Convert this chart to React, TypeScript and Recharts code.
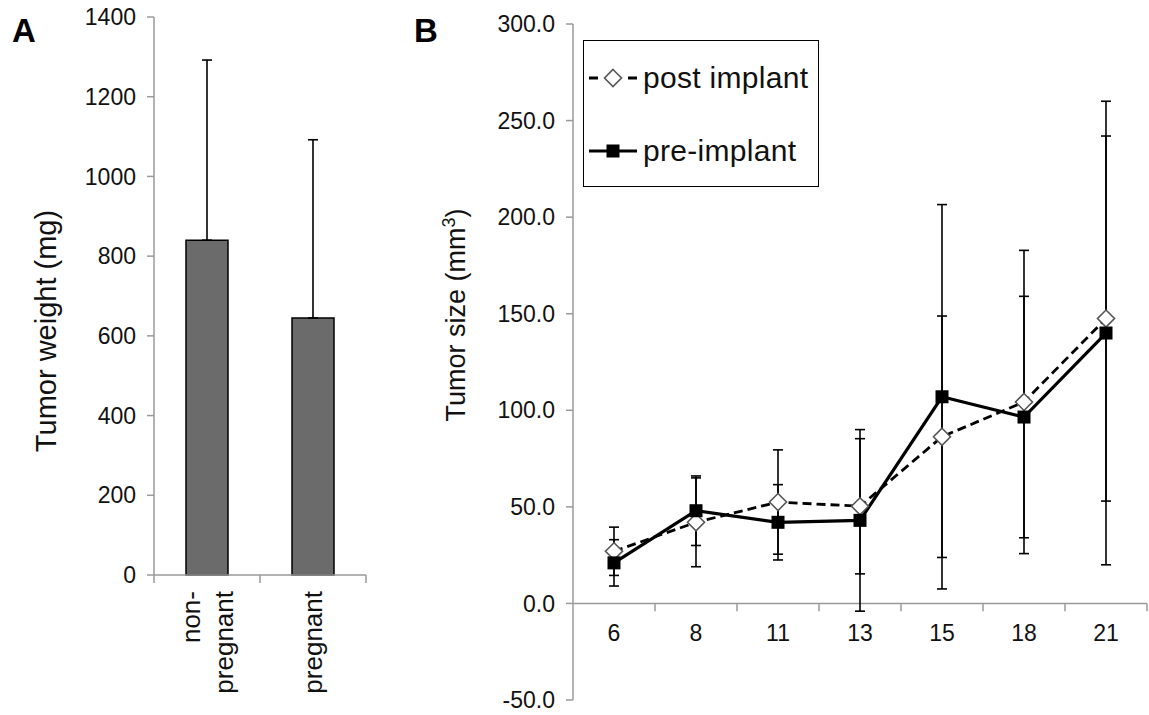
import React from 'react';
import {
    BarChart,
    Bar,
    LineChart,
    Line,
    XAxis,
    YAxis,
    ErrorBar,
    ReferenceLine,
    ReferenceDot,
    Legend,
} from 'recharts';

// ─────────────────────────────────────────────────────────────────────────────
// Data
// ─────────────────────────────────────────────────────────────────────────────

const groups = [['non-', 'pregnant'], ['pregnant']];
const weightMean = [840, 645];
const weightSd = [452, 447];
const weightTicks = [0, 200, 400, 600, 800, 1000, 1200, 1400];

const days = ['6', '8', '11', '13', '15', '18', '21'];
const seriesNames = ['post implant', 'pre-implant'];
const postMean = [27, 42, 52.5, 50.3, 86.3, 104.3, 147.5];
const postErr = [12.5, 23, 27, 35, 62.5, 78.5, 94.5];
const preMean = [21, 48, 42, 43, 107, 96.5, 140];
const preErr = [12, 18, 19.5, 47, 99.5, 62.5, 120];
const sizeTicks = [-50, 0, 50, 100, 150, 200, 250, 300];

const FONT = '"Liberation Sans", Arial, sans-serif';
const AXIS_GREY = '#9a9a9a';

const weightData = groups.map((g, i) => ({
    idx: i,
    lines: g,
    mean: weightMean[i],
    err: [0, weightSd[i]],
}));

const sizeData = days.map((d, i) => ({
    idx: i,
    day: d,
    post: postMean[i],
    postErr: postErr[i],
    pre: preMean[i],
    preErr: preErr[i],
}));

// half-category positions, used for the boundary tick marks
const groupBounds = [-0.5, ...groups.map((_, i) => i + 0.5)];
const dayBounds = days.map((_, i) => i + 0.5);

// ─────────────────────────────────────────────────────────────────────────────
// Panel A pieces
// ─────────────────────────────────────────────────────────────────────────────

const GroupTick = ({ x, y, payload }: { x?: number; y?: number; payload?: { value: number } }) => {
    const v = payload?.value ?? 0;
    if (!Number.isInteger(v)) {
        return <line x1={x} x2={x} y1={y} y2={(y ?? 0) + 8} stroke={AXIS_GREY} strokeWidth={1.5} />;
    }
    const lines = groups[v] ?? [];
    const lh = 33;
    return (
        <g transform={`translate(${x},${(y ?? 0) + 16}) rotate(-90)`}>
            {lines.map((t, i) => (
                <text
                    key={i}
                    x={0}
                    y={(i - (lines.length - 1) / 2) * lh}
                    dy="0.36em"
                    textAnchor="end"
                    fontSize={26}
                    fill="#111"
                    fontFamily={FONT}
                >
                    {t}
                </text>
            ))}
        </g>
    );
};

function WeightPanel() {
    return (
        <BarChart width={400} height={715} data={weightData} margin={{ top: 17, right: 34, bottom: 0, left: 0 }}>
            <XAxis
                dataKey="idx"
                type="number"
                domain={[-0.5, groups.length - 0.5]}
                ticks={[...groupBounds, ...groups.map((_, i) => i)].sort((a, b) => a - b)}
                interval={0}
                allowDecimals
                height={140}
                tickSize={0}
                tickMargin={0}
                tickLine={false}
                axisLine={{ stroke: AXIS_GREY, strokeWidth: 1.5 }}
                tick={<GroupTick />}
            />
            <YAxis
                domain={[0, 1400]}
                ticks={weightTicks}
                interval={0}
                width={154}
                tickSize={7}
                tickMargin={11}
                axisLine={{ stroke: AXIS_GREY, strokeWidth: 1.5 }}
                tickLine={{ stroke: AXIS_GREY, strokeWidth: 1.5 }}
                tick={{ fill: '#111', fontSize: 23, fontFamily: FONT }}
                label={{
                    content: () => (
                        <text
                            transform="translate(46,331) rotate(-90)"
                            textAnchor="middle"
                            dy="0.36em"
                            fontSize={29}
                            fill="#111"
                            fontFamily={FONT}
                        >
                            Tumor weight  (mg)
                        </text>
                    ),
                }}
            />
            <Bar dataKey="mean" fill="#6b6b6b" stroke="#000" strokeWidth={1.5} barSize={42} isAnimationActive={false}>
                <ErrorBar dataKey="err" width={5} stroke="#000" strokeWidth={1.6} direction="y" />
            </Bar>
        </BarChart>
    );
}

// ─────────────────────────────────────────────────────────────────────────────
// Panel B pieces
// ─────────────────────────────────────────────────────────────────────────────

const Diamond = ({ cx, cy }: { cx?: number; cy?: number }) => {
    if (cx == null || cy == null) return null;
    const r = 8.5;
    return (
        <path
            d={`M${cx},${cy - r}L${cx + r},${cy}L${cx},${cy + r}L${cx - r},${cy}Z`}
            fill="#fff"
            stroke="#555"
            strokeWidth={1.6}
        />
    );
};

const Square = ({ cx, cy }: { cx?: number; cy?: number }) => {
    if (cx == null || cy == null) return null;
    const s = 13;
    return <rect x={cx - s / 2} y={cy - s / 2} width={s} height={s} fill="#000" />;
};

const LegendBox = () => (
    <div
        style={{
            width: 236,
            height: 147,
            boxSizing: 'border-box',
            border: '1.5px solid #000',
            background: '#fff',
            fontFamily: FONT,
            fontSize: 30,
            color: '#111',
        }}
    >
        {seriesNames.map((name, i) => (
            <div key={name} style={{ display: 'flex', alignItems: 'center', height: 36, marginTop: i === 0 ? 19 : 37 }}>
                <svg width={56} height={30} style={{ marginLeft: 3 }}>
                    {i === 0 ? (
                        <>
                            <line x1={2} x2={50} y1={15} y2={15} stroke="#000" strokeWidth={3} strokeDasharray="9 30 9" />
                            <Diamond cx={26} cy={15} />
                        </>
                    ) : (
                        <>
                            <line x1={2} x2={50} y1={15} y2={15} stroke="#000" strokeWidth={3.2} />
                            <Square cx={26} cy={15} />
                        </>
                    )}
                </svg>
                <span style={{ marginLeft: 0, letterSpacing: 0.3 }}>{name}</span>
            </div>
        ))}
    </div>
);

function SizePanel() {
    return (
        <LineChart width={719} height={715} data={sizeData} margin={{ top: 24, right: 2, bottom: 15, left: 0 }}>
            <XAxis dataKey="idx" type="number" domain={[-0.5, days.length - 0.5]} hide />
            <YAxis
                domain={[-50, 300]}
                ticks={sizeTicks}
                interval={0}
                width={143}
                tickSize={7}
                tickMargin={11}
                axisLine={{ stroke: AXIS_GREY, strokeWidth: 1.5 }}
                tickLine={{ stroke: AXIS_GREY, strokeWidth: 1.5 }}
                tick={{ fill: '#111', fontSize: 23, fontFamily: FONT }}
                tickFormatter={(v: number) => v.toFixed(1)}
                label={{
                    content: () => (
                        <text
                            transform="translate(25,315) rotate(-90)"
                            textAnchor="middle"
                            dy="0.36em"
                            fontSize={27}
                            fill="#111"
                            fontFamily={FONT}
                        >
                            Tumor size (mm
                            <tspan dy={-10} fontSize={18}>3</tspan>
                            <tspan dy={10}>)</tspan>
                        </text>
                    ),
                }}
            />
            <ReferenceLine y={0} stroke={AXIS_GREY} strokeWidth={1.5} />
            {dayBounds.map((b) => (
                <ReferenceLine
                    key={b}
                    segment={[{ x: b, y: 0 }, { x: b, y: -4 }]}
                    stroke={AXIS_GREY}
                    strokeWidth={1.5}
                />
            ))}
            {sizeData.map((d) => (
                <ReferenceDot
                    key={d.day}
                    x={d.idx}
                    y={0}
                    r={1}
                    fill="none"
                    stroke="none"
                    label={{ value: d.day, position: 'bottom', offset: 20, fontSize: 23, fill: '#111', fontFamily: FONT }}
                />
            ))}
            <Legend
                layout="horizontal"
                verticalAlign="middle"
                align="center"
                wrapperStyle={{ left: 153, top: 40, width: 236, height: 147 }}
                content={() => <LegendBox />}
            />
            <Line
                dataKey="post"
                stroke="#000"
                strokeWidth={2.8}
                strokeDasharray="9 5"
                dot={<Diamond />}
                activeDot={false}
                isAnimationActive={false}
            >
                <ErrorBar dataKey="postErr" width={5} stroke="#000" strokeWidth={1.6} direction="y" />
            </Line>
            <Line
                dataKey="pre"
                stroke="#000"
                strokeWidth={3.2}
                dot={<Square />}
                activeDot={false}
                isAnimationActive={false}
            >
                <ErrorBar dataKey="preErr" width={5} stroke="#000" strokeWidth={1.6} direction="y" />
            </Line>
        </LineChart>
    );
}

export default function App() {
    return (
        <div
            style={{
                position: 'absolute',
                left: 0,
                top: 0,
                width: 1149,
                height: 715,
                background: '#fff',
                overflow: 'hidden',
                fontFamily: FONT,
            }}
        >
            <div style={{ position: 'absolute', left: 12, top: 12, fontSize: 33, fontWeight: 'bold', color: '#000' }}>A</div>
            <div style={{ position: 'absolute', left: 414, top: 12, fontSize: 33, fontWeight: 'bold', color: '#000' }}>B</div>
            <div style={{ position: 'absolute', left: 0, top: 0 }}>
                <WeightPanel />
            </div>
            <div style={{ position: 'absolute', left: 430, top: 0 }}>
                <SizePanel />
            </div>
        </div>
    );
}
